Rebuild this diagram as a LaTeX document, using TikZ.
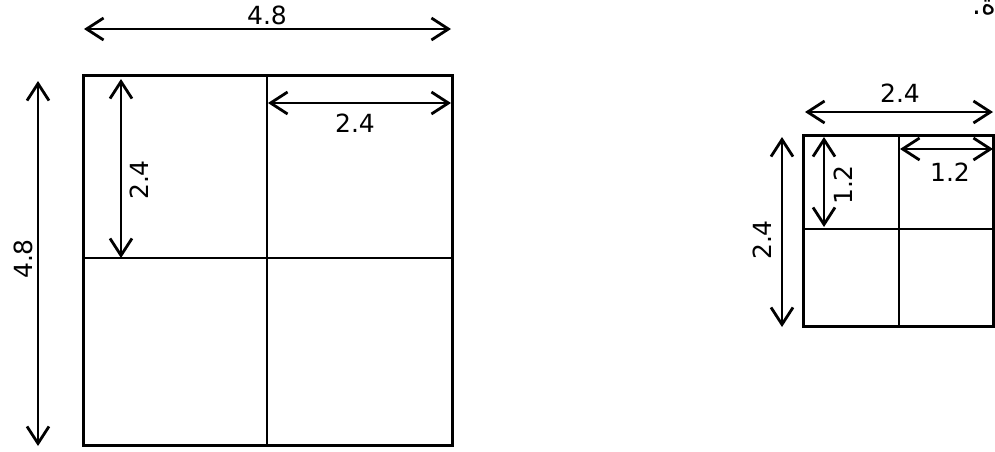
\documentclass[tikz,border=0pt]{standalone}
\usepackage{fontspec}
\setmainfont{DejaVu Sans}
\newfontfamily\arabicfont[Script=Arabic]{DejaVu Sans}
\TeXXeTstate=1
\usetikzlibrary{arrows.meta}
\begin{document}
\begin{tikzpicture}[x=1pt,y=-1pt,
  dim/.style={line width=2.8pt,{Straight Barb[length=17pt,width=22pt,line width=2.8pt]}-{Straight Barb[length=17pt,width=22pt,line width=2.8pt]}},
  outer/.style={draw,line width=3pt},
  inner/.style={line width=1.4pt},
  lab/.style={font=\fontsize{25}{25}\selectfont,inner sep=0pt}]
\useasboundingbox (0,0) rectangle (995,451);
% big square
\coordinate (A1) at (83,75);
\coordinate (A2) at (452,445);
\draw[outer] (A1) rectangle (A2);
\coordinate (Am1) at (267,75); \coordinate (Am2) at (267,445);
\coordinate (Ah1) at (83,258); \coordinate (Ah2) at (452,258);
\draw[inner] (Am1) -- (Am2);
\draw[inner] (Ah1) -- (Ah2);
% big dims
\coordinate (T1) at (84,29); \coordinate (T2) at (451,29);
\draw[dim] (T1) -- (T2);
\node[lab] (t48) at (267,15) {4.8};
\coordinate (L1) at (38,81); \coordinate (L2) at (38,446);
\draw[dim] (L1) -- (L2);
\node[lab,rotate=90] (l48) at (23,259) {4.8};
\coordinate (V1) at (121,79); \coordinate (V2) at (121,258);
\draw[dim] (V1) -- (V2);
\node[lab,rotate=90] (v24) at (139,180) {2.4};
\coordinate (H1) at (268,103); \coordinate (H2) at (451,103);
\draw[dim] (H1) -- (H2);
\node[lab] (h24) at (355,123) {2.4};
% small square
\coordinate (B1) at (803,135);
\coordinate (B2) at (993,326);
\draw[outer] (B1) rectangle (B2);
\coordinate (Bm1) at (899,135); \coordinate (Bm2) at (899,326);
\coordinate (Bh1) at (803,229); \coordinate (Bh2) at (993,229);
\draw[inner] (Bm1) -- (Bm2);
\draw[inner] (Bh1) -- (Bh2);
\coordinate (ST1) at (805,112); \coordinate (ST2) at (993,112);
\draw[dim] (ST1) -- (ST2);
\node[lab] (s24) at (900,93) {2.4};
\coordinate (SL1) at (782,137); \coordinate (SL2) at (782,327);
\draw[dim] (SL1) -- (SL2);
\node[lab,rotate=90] (sl24) at (762,240) {2.4};
\coordinate (SV1) at (824,137); \coordinate (SV2) at (824,227);
\draw[dim] (SV1) -- (SV2);
\node[lab,rotate=90] (sv12) at (843,185) {1.2};
\coordinate (SH1) at (900,149); \coordinate (SH2) at (993,149);
\draw[dim] (SH1) -- (SH2);
\node[lab] (sh12) at (950,172) {1.2};
% cut-off Arabic text at top right
\node[anchor=base east,inner sep=0pt,font=\fontsize{28}{28}\arabicfont] (ar) at (996,14) {\beginR ة.\endR};
\end{tikzpicture}
\end{document}
